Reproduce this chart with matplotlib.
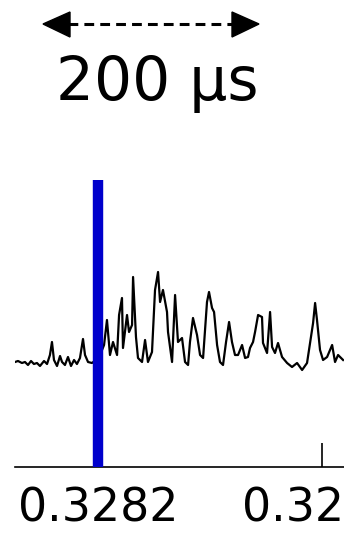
import matplotlib
matplotlib.use("Agg")
import matplotlib.pyplot as plt
from matplotlib.lines import Line2D
from matplotlib.patches import Polygon

# trace: time after 0.3282 s (µs) and amplitude (a.u.)
t_us = [-74.1, -71.4, -67.9, -65.2, -62.5, -59.8, -57.2, -54.5, -51.8, -48.2,
        -45.5, -42.9, -41.1, -39.3, -36.6, -33.9, -32.1, -29.5, -26.8, -24.1,
        -21.4, -18.8, -16.1, -13.4, -11.6, -8.9, -5.4, -1.8, 1.8, 5.4,
        8.0, 10.7, 13.4, 17.0, 18.8, 21.4, 22.3, 25.9, 27.7, 30.4,
        31.3, 33.9, 35.7, 39.3, 42.0, 44.6, 48.2, 50.9, 53.6, 55.4,
        58.0, 61.6, 62.5, 66.1, 68.8, 71.4, 75.0, 77.7, 80.4, 82.1,
        84.8, 88.4, 91.1, 93.8, 97.3, 99.1, 101.8, 103.6, 106.3, 108.9,
        111.6, 114.3, 117.0, 119.6, 122.3, 125.0, 128.6, 131.3, 133.9, 135.7,
        138.4, 140.2, 142.9, 146.4, 147.3, 150.9, 153.6, 155.4, 158.0, 160.7,
        164.3, 168.8, 173.2, 177.7, 182.2, 186.6, 189.3, 192.0, 193.8, 195.5,
        198.2, 200.9, 204.5, 209.0, 211.6, 214.3, 218.8]
amp = [0, 1, -1, 0, -3, 1, -2, -1, -4, 1,
       -2, 7, 20, 2, -4, 6, 0, -3, 5, -4,
       2, -2, 4, 23, 7, 0, -1, 2, 7, 17,
       42, 7, 20, 7, 47, 64, 14, 47, 30, 37,
       85, 25, 4, 0, 22, 0, 10, 72, 90, 60,
       72, 50, 30, 0, 67, 20, 24, 0, -3, 20,
       44, 27, 7, 4, 60, 70, 54, 50, 17, 0,
       -3, 20, 40, 20, 7, 7, 17, 4, 5, 14,
       20, 30, 47, 45, 19, 9, 50, 15, 9, 19,
       5, -1, -5, -1, -8, -1, 19, 39, 59, 42,
       12, 2, 5, 17, 0, 7, 2]

t0 = 0.3282
marker_t = 0.3282
tick_vals = [0.3282, 0.3284]
tick_labels = ["0.3282", "0.3284"]
scale_label = "200 µs"

W, H = 344, 535
fig = plt.figure(figsize=(W / 100, H / 100), dpi=100)


def fx(px):
    return px / W


def fy(py):
    return (H - py) / H


ax = fig.add_axes([fx(15), fy(467), 1 - fx(15), fy(180) - fy(467)])

t = [t0 + v * 1e-6 for v in t_us]
ax.plot(t, amp, color="black", lw=1.6)
ax.axvline(marker_t, color="#0000cc", lw=7.5, zorder=3)

ax.set_xlim(t0 - 74.1e-6, t0 + 219.6e-6)
ax.set_ylim(-105, 182)
for s in ["top", "left", "right"]:
    ax.spines[s].set_visible(False)
ax.spines["bottom"].set_linewidth(1.2)
ax.set_yticks([])
ax.set_xticks(tick_vals)
ax.set_xticklabels(tick_labels, fontsize=33, family="DejaVu Sans")
ax.tick_params(axis="x", direction="in", length=17, width=1.2, pad=14)

# scale bar
fig.add_artist(Line2D([fx(68), fx(234)], [fy(24), fy(24)], color="black",
                      lw=2.2, ls=(0, (3.2, 2.0))))
fig.add_artist(Polygon([[fx(43), fy(24)], [fx(70), fy(12)], [fx(70), fy(37)]],
                       closed=True, color="black", transform=fig.transFigure))
fig.add_artist(Polygon([[fx(259), fy(24)], [fx(232), fy(12)], [fx(232), fy(37)]],
                       closed=True, color="black", transform=fig.transFigure))
fig.text(fx(157), fy(100), scale_label, fontsize=43, ha="center", va="baseline")

fig.savefig("out.png", dpi=100)
